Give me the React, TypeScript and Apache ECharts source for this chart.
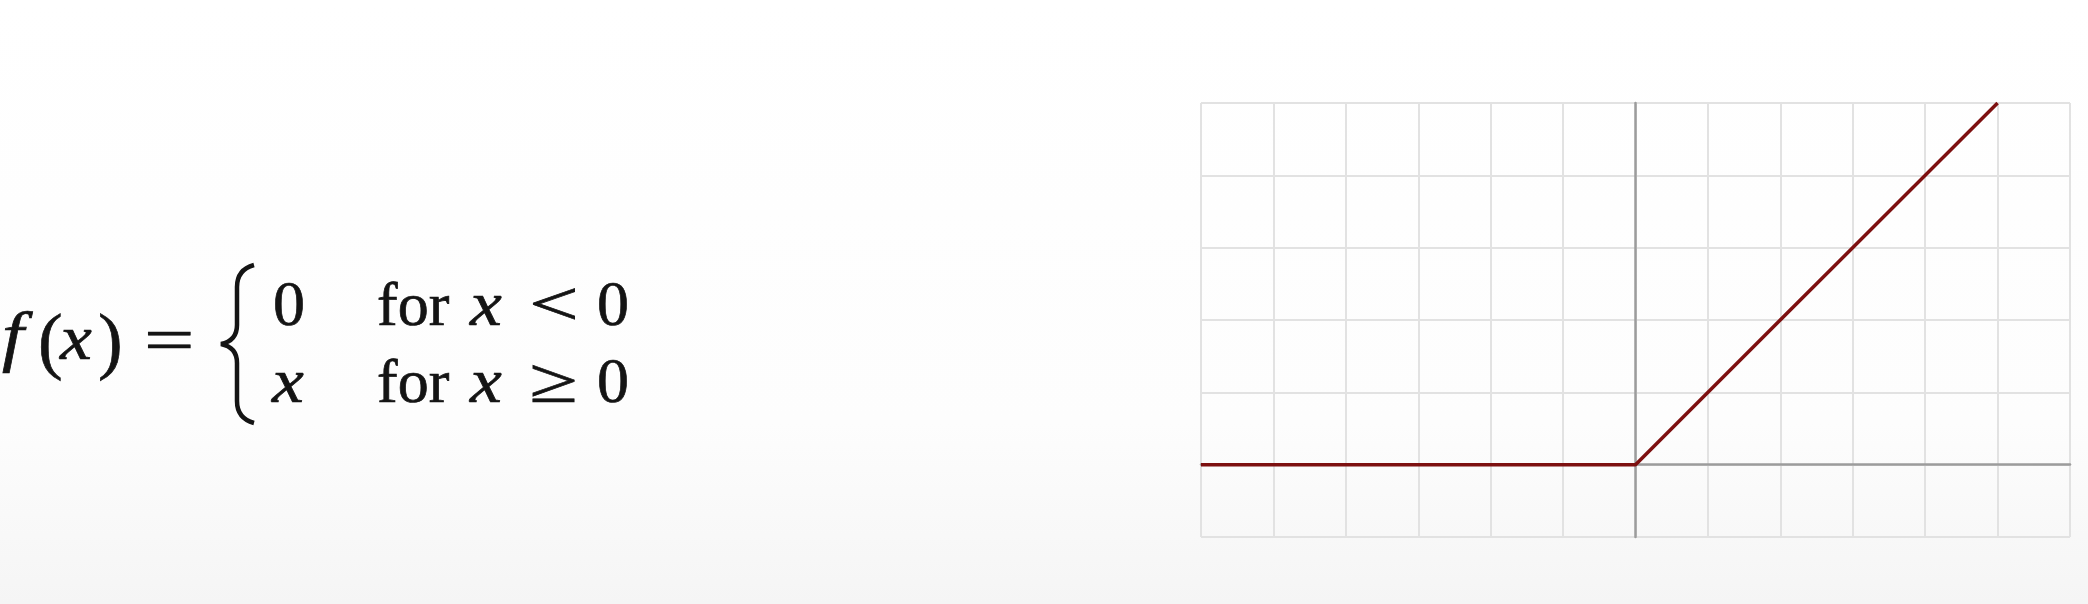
import React, { useEffect, useRef } from 'react';
import * as echarts from 'echarts';

// ReLU: f(x) = max(0, x)
const xRange = [-6, 6];
const yRange = [-1, 5];
const reluX = [-6, 0, 5];
const reluY = [0, 0, 5];

// formula glyphs: [text, left x, italic, fontSize, scaleX, baseline shift]
type Glyph = [string, number, boolean, number, number, number];
const lhsGlyphs: Glyph[] = [
  ['f', 2, true, 68, 1.15, 0], ['(', 38, false, 74, 1, 6], ['x', 60, true, 64, 1.12, 0],
  [')', 98, false, 74, 1, 6], ['=', 144, false, 64, 1.4, 2],
];
const row1Glyphs: Glyph[] = [
  ['0', 273, false, 64, 1, 0], ['for', 377, false, 62, 1, 0], ['x', 470, true, 64, 1.12, 0],
  ['<', 529, false, 64, 1.38, 0], ['0', 597, false, 64, 1, 0],
];
const row2Glyphs: Glyph[] = [
  ['x', 272, true, 64, 1.12, 0], ['for', 377, false, 62, 1, 0], ['x', 470, true, 64, 1.12, 0],
  ['≥', 529, false, 64, 1.38, 0], ['0', 597, false, 64, 1, 0],
];

const BRACE =
  'M 34 0 C 23 3 17 10 17 22 L 17 60 C 17 71 11 77 1 79 C 11 81 17 87 17 98 L 17 136 C 17 148 23 155 34 158';
echarts.graphic.registerShape('brace', echarts.graphic.extendPath(BRACE, {}));

const INK = '#141414';

function glyphs(list: Glyph[], baseline: number) {
  return list.map(([t, x, it, size, sx, dy]) => ({
    type: 'text',
    x,
    y: baseline + dy - size * 0.35,
    scaleX: sx,
    style: {
      text: t,
      fontFamily: 'Liberation Serif',
      fontStyle: it ? 'italic' : 'normal',
      fontSize: size,
      fill: INK,
      stroke: INK,
      lineWidth: 0.7,
      align: 'left',
      verticalAlign: 'middle',
    },
  }));
}

export default function App() {
  const ref = useRef<HTMLDivElement | null>(null);

  useEffect(() => {
    document.body.style.margin = '0';
    if (!ref.current) return;
    const chart = echarts.init(ref.current, undefined, { renderer: 'svg' });
    chart.setOption({
      animation: false,
      backgroundColor: {
        type: 'linear', x: 0, y: 0, x2: 0, y2: 1,
        colorStops: [
          { offset: 0, color: '#ffffff' },
          { offset: 0.7, color: '#fdfdfd' },
          { offset: 1, color: '#f5f5f5' },
        ],
      },
      grid: { left: 1201, top: 103, width: 869, height: 434, containLabel: false },
      xAxis: {
        type: 'value', min: xRange[0], max: xRange[1], interval: 1,
        axisLine: { show: true, onZero: true, lineStyle: { color: '#9c9c9c', width: 2.5 } },
        axisTick: { show: false }, axisLabel: { show: false },
        splitLine: { show: true, lineStyle: { color: '#e2e2e2', width: 2 } },
      },
      yAxis: {
        type: 'value', min: yRange[0], max: yRange[1], interval: 1,
        axisLine: { show: true, onZero: true, lineStyle: { color: '#9c9c9c', width: 2.5 } },
        axisTick: { show: false }, axisLabel: { show: false },
        splitLine: { show: true, lineStyle: { color: '#e2e2e2', width: 2 } },
      },
      series: [{
        type: 'line',
        data: reluX.map((x, i) => [x, reluY[i]]),
        symbol: 'none',
        lineStyle: { color: '#7d1010', width: 3.5 },
        z: 5,
      }],
      graphic: [
        ...glyphs(lhsGlyphs, 360),
        ...glyphs(row1Glyphs, 326),
        ...glyphs(row2Glyphs, 403),
        { type: 'brace', x: 220, y: 265, style: { fill: 'none', stroke: INK, lineWidth: 4.5 } },
      ],
    });
    return () => { chart.dispose(); };
  }, []);

  return <div ref={ref} style={{ width: 2088, height: 604 }} />;
}
